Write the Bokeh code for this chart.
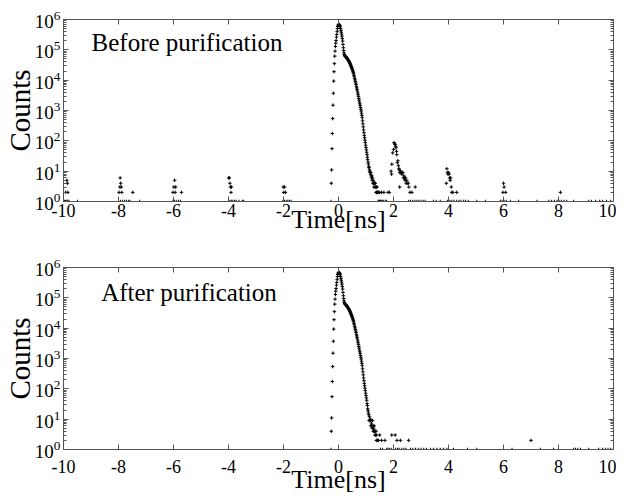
import numpy as np
from bokeh.plotting import figure
from bokeh.layouts import column
from bokeh.models import (LogAxis, LinearAxis, LogTicker, SingleIntervalTicker,
                          Label, Range1d, ColumnDataSource, CustomJSTickFormatter)
from bokeh.embed import file_html
from bokeh.resources import INLINE

# ---------------- data ----------------
BIN_NS = 0.0125            # histogram bin width [ns]
PEAK_FIRST_BIN = -22       # first bin index of the main peak (t = -0.275 ns)

# main instrument/decay peak, counts per bin from t=-0.275 ns to t=1.0 ns
peak_counts = [
    1, 4, 11, 55, 174, 540, 1500, 3700, 9300, 19000, 35000, 62000, 91000,
    129000, 166000, 204000, 263000, 324000, 407000, 501000, 589000, 646000,
    692000,
    690000, 676000, 646000, 617000, 575000, 501000, 437000, 380000, 331000,
    282000, 234000, 195000, 151000, 117000, 95000, 79000, 71000, 65000,
    62000, 60000, 59000, 57500, 56000, 55000, 52500, 50000, 48000, 46000,
    44700, 42600, 40700, 38900, 36300, 34700, 32400, 30200, 28200, 26300,
    24500, 22900, 21400, 19500, 17800, 16200, 14500, 12900, 11500, 10200,
    9100, 8100, 7200, 6300, 5600, 5000, 4400, 3800, 3300, 2900, 2500, 2200,
    1900, 1660, 1450, 1260, 1100, 955, 813, 692, 575, 457, 363, 288, 229,
    186, 151, 126, 105, 87, 72, 60,
]

# ---- Before purification ----
before_tail_t = [1.0125, 1.025, 1.0375, 1.05, 1.0625, 1.075, 1.0875, 1.1, 1.1125,
                 1.125, 1.1375, 1.15, 1.1625, 1.175, 1.1875, 1.2, 1.2125, 1.225,
                 1.2375, 1.25, 1.2625, 1.275, 1.2875, 1.3, 1.3125, 1.325, 1.3375,
                 1.35, 1.3625, 1.375, 1.3875, 1.4, 1.4125, 1.425, 1.45, 1.5,
                 1.5625, 1.65, 1.8, 1.85]
before_tail_counts = [50, 42, 35, 29, 24, 20, 17, 14, 13, 11, 10, 9, 8, 9, 7, 6, 7, 5,
                      6, 4, 5, 4, 3, 4, 4, 3, 4, 3, 2, 3, 2, 3, 2, 2, 2, 2,
                      2, 2, 2, 2]

before_echo_t = [-9.92, -9.88, -9.86, -9.84,
                 -7.98, -7.95, -7.94, -7.92, -7.90, -7.88, -7.48,
                 -6.02, -5.99, -5.96, -5.94, -5.92, -5.71,
                 -3.99, -3.97, -3.95, -3.93, -3.91, -3.89,
                 -2.01, -1.99, -1.96, -1.93,
                 1.91, 1.93, 1.94, 1.97, 2.0, 2.02, 2.04, 2.06, 2.08, 2.09, 2.11,
                 2.12, 2.14, 2.16, 2.18, 2.2, 2.21, 2.225, 2.23, 2.24, 2.26, 2.28,
                 2.3, 2.32, 2.34, 2.36, 2.38, 2.4, 2.42, 2.44, 2.46, 2.48, 2.5,
                 2.54, 2.56, 2.6, 2.67, 2.79,
                 3.92, 3.94, 3.96, 3.98, 4.0, 4.02, 4.04, 4.06, 4.08, 4.1, 4.12,
                 4.16, 4.3,
                 5.98, 6.0, 6.02, 6.08,
                 8.07]
before_echo_counts = [2, 5, 4, 2,
                      2, 3, 6, 4, 3, 2, 2,
                      2, 3, 5, 2, 3, 2,
                      6, 6, 4, 3, 2, 3,
                      3, 2, 3, 2,
                      10, 8, 17, 40, 52, 87, 80, 76, 66, 59, 45,
                      35, 19, 22, 15, 12, 11, 3, 9, 9, 10, 9,
                      8, 9, 9, 6, 7, 6, 5, 6, 4, 5, 4,
                      4, 3, 2, 2, 3,
                      4, 12, 9, 8, 9, 8, 6, 5, 6, 3, 2,
                      2, 2,
                      2, 4, 3, 2,
                      2]

# bins holding a single count (drawn on the 10^0 axis)
before_single_t = [-9.96, -9.92, -9.88, -9.84, -9.80, -9.49,
                   -8.0, -7.93, -7.85, -7.78, -7.71, -7.64, -7.58, -7.23,
                   -6.02, -5.97, -5.90, -5.82, -5.75,
                   -4.0, -3.95, -3.90, -3.84, -3.78, -3.72, -3.62, -3.5, -3.45,
                   -2.02, -1.96, -1.90, -1.84, -1.78, -1.72,
                   1.4375, 1.475, 1.4875, 1.525, 1.55, 1.6, 1.625, 1.7, 1.75,
                   2.55, 2.62, 2.7, 2.78, 2.85, 2.92, 3.0, 3.08, 3.15,
                   3.45, 3.55, 3.7,
                   3.96, 4.05, 4.12, 4.2, 4.3, 4.38, 4.45, 4.55, 4.62, 4.72,
                   5.03, 5.34,
                   5.88, 5.95, 6.02, 6.1, 6.25, 6.55, 7.22,
                   7.65, 7.75, 7.85, 7.95, 8.02, 8.1, 8.2, 8.3, 8.55,
                   9.1, 9.2, 9.35, 9.5, 9.6, 9.75, 9.9, 10.0]

# ---- After purification ----
after_tail_t = [1.0125, 1.025, 1.0375, 1.05, 1.0625, 1.075, 1.0875, 1.1, 1.1125,
                1.125, 1.1375, 1.15, 1.1625, 1.175, 1.1875, 1.2, 1.2125, 1.225,
                1.2375, 1.25, 1.2625, 1.275, 1.2875, 1.3, 1.3125, 1.325, 1.3375,
                1.35, 1.3625, 1.375, 1.3875, 1.4125, 1.45, 1.5, 1.5625, 1.6875,
                1.9375, 2.0625, 2.125, 2.25, 2.55, 7.0]
after_tail_counts = [50, 42, 33, 28, 22, 19, 16, 14, 9, 12, 9, 10, 9, 6, 9, 7, 6, 5,
                     9, 6, 4, 5, 4, 6, 4, 3, 4, 3, 4, 2, 3, 2, 2, 3, 2, 2,
                     3, 3, 2, 2, 2, 2]

after_single_t = [1.525, 1.6, 1.75, 1.8, 1.85, 1.92, 2.0, 2.08, 2.15, 2.2, 2.3,
                  2.38, 2.45, 2.62, 2.7, 2.8, 2.9, 3.0, 3.1, 3.2, 3.35, 3.45,
                  3.58, 3.7, 3.82, 3.94, 4.18, 4.69, 5.03, 6.0, 6.31, 7.34,
                  7.82, 8.55, 8.62, 8.7, 8.8, 9.1, 9.46, 9.6, 9.7, 9.8, 9.9,
                  10.0]

X_TICK_STEP = 2

FRAME = "#555555"
SERIF = "Liberation Serif"


def panel_points(tail_t, tail_c, echo_t, echo_c, single_t):
    peak_t = (np.arange(len(peak_counts)) + PEAK_FIRST_BIN) * BIN_NS
    t = np.concatenate([peak_t, tail_t, echo_t, single_t])
    c = np.concatenate([peak_counts, tail_c, echo_c, np.ones(len(single_t))])
    return ColumnDataSource(dict(t=t, c=c))


def blank():
    return CustomJSTickFormatter(code="return '';")


def make_panel(src, title, lab_x, lab_y, border_top, border_bottom,
               tick_standoff, label_standoff):
    p = figure(frame_width=550, frame_height=182, y_axis_type="log",
               x_range=Range1d(-10, 10), y_range=Range1d(1, 1e6),
               output_backend="svg", toolbar_location=None,
               min_border_left=56, min_border_right=3,
               min_border_top=border_top, min_border_bottom=border_bottom)
    p.grid.visible = False
    p.outline_line_color = FRAME
    p.background_fill_color = "white"
    p.border_fill_color = "white"

    xa = p.xaxis[0]
    xa.ticker = SingleIntervalTicker(interval=X_TICK_STEP, num_minor_ticks=0)
    xa.formatter = CustomJSTickFormatter(code="return String(tick).replace('\u2212', '-');")
    ya = p.yaxis[0]
    ya.ticker = LogTicker(num_minor_ticks=10)
    for ax in (xa, ya):
        ax.axis_line_color = FRAME
        ax.major_tick_line_color = FRAME
        ax.minor_tick_line_color = FRAME
        ax.major_tick_in = 5
        ax.major_tick_out = 0
        ax.minor_tick_in = 3
        ax.minor_tick_out = 0
        ax.major_label_text_font = SERIF
        ax.major_label_text_color = "black"
        ax.axis_label_text_font = SERIF
        ax.axis_label_text_font_style = "normal"
        ax.axis_label_text_color = "black"
    xa.major_label_text_font_size = "18px"
    ya.major_label_text_font_size = "19px"
    xa.axis_label_text_font_size = "26px"
    ya.axis_label_text_font_size = "29px"
    xa.axis_label = "Time[ns]"
    xa.major_label_standoff = tick_standoff
    xa.axis_label_standoff = label_standoff
    ya.axis_label = "Counts"
    ya.major_label_standoff = 3
    ya.axis_label_standoff = -4

    top = LinearAxis(ticker=SingleIntervalTicker(interval=X_TICK_STEP, num_minor_ticks=0),
                     formatter=blank(), major_label_standoff=0,
                     axis_line_color=FRAME, major_tick_line_color=FRAME,
                     major_tick_in=5, major_tick_out=0, minor_tick_line_color=None)
    p.add_layout(top, "above")
    right = LogAxis(ticker=LogTicker(num_minor_ticks=10),
                    formatter=blank(), major_label_standoff=0,
                    axis_line_color=FRAME, major_tick_line_color=FRAME,
                    minor_tick_line_color=FRAME,
                    major_tick_in=5, major_tick_out=0,
                    minor_tick_in=3, minor_tick_out=0)
    p.add_layout(right, "right")

    p.scatter("t", "c", source=src, marker="cross", size=3.5,
              line_color="black", line_width=1)

    p.add_layout(Label(x=lab_x, y=lab_y, text=title, text_font=SERIF,
                       text_font_size="25px", text_color="black",
                       text_baseline="alphabetic", text_align="left"))
    return p


src_before = panel_points(before_tail_t, before_tail_counts,
                          before_echo_t, before_echo_counts, before_single_t)
src_after = panel_points(after_tail_t, after_tail_counts, [], [], after_single_t)

p1 = make_panel(src_before, "Before purification", -8.98, 1.74e5,
                19, 40, 2, -15)
p2 = make_panel(src_after, "After purification", -8.63, 1.55e5,
                26, 35, 10, -11)

layout = column(p1, p2, spacing=0)
open("out.html", "w").write(file_html(layout, INLINE))
